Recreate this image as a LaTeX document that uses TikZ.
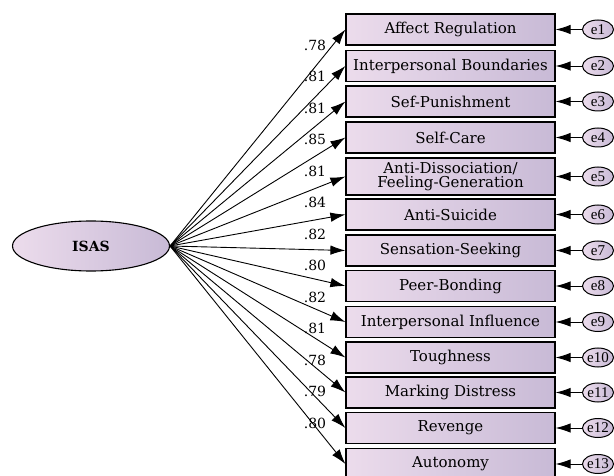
\documentclass[tikz,border=0pt]{standalone}
\usepackage{fontspec}
\setmainfont{DejaVu Serif}
\newfontfamily\errfont{Liberation Serif}
\usepackage{xcolor}
\usepackage{tikz}
\usetikzlibrary{shapes,arrows.meta,positioning}
\definecolor{lilacL}{RGB}{236,220,236}
\definecolor{lilacR}{RGB}{200,186,214}

\begin{document}
\begin{tikzpicture}[x=1pt, y=-1pt,
    item/.style={draw, line width=1.2pt, left color=lilacL, right color=lilacR,
      minimum width=209pt, minimum height=31pt, inner sep=1pt, align=center,
      font=\fontsize{15}{14}\selectfont},
    err/.style={ellipse, draw, line width=1pt, left color=lilacL, right color=lilacR,
      minimum width=31pt, minimum height=19pt, inner ysep=0pt, inner xsep=-1.5pt,
      font=\errfont\fontsize{15}{14}\selectfont},
    load/.style={-{Latex[length=15pt,width=9.5pt]}, line width=0.9pt},
    coef/.style={inner sep=0pt, font=\fontsize{14}{14}\selectfont}]
    \useasboundingbox (0,0) rectangle (614,476);

    % latent factor
    \node [ellipse, draw, line width=1.1pt, left color=lilacL, right color=lilacR,
      minimum width=157pt, minimum height=50pt, font=\bfseries\fontsize{14}{14}\selectfont]
      (isas) at (91,246) {ISAS};

    % observed items
    \node [item] (v1) at (450.5,29.5) {Affect Regulation};
    \node [item] (v2) at (450.5,66) {Interpersonal Boundaries};
    \node [item] (v3) at (450.5,101.5) {Sef-Punishment};
    \node [item] (v4) at (450.5,137.5) {Self-Care};
    \node [item, minimum height=37pt] (v5) at (450.5,176.5) {Anti-Dissociation/\\Feeling-Generation};
    \node [item] (v6) at (450.5,214.5) {Anti-Suicide};
    \node [item] (v7) at (450.5,250.5) {Sensation-Seeking};
    \node [item] (v8) at (450.5,286) {Peer-Bonding};
    \node [item] (v9) at (450.5,322) {Interpersonal Influence};
    \node [item] (v10) at (450.5,357.5) {Toughness};
    \node [item] (v11) at (450.5,392.5) {Marking Distress};
    \node [item] (v12) at (450.5,428) {Revenge};
    \node [item] (v13) at (450.5,464) {Autonomy};

    % error terms
    \foreach \i in {1,...,13} {
      \node [err] (e\i) at (598,0 |- v\i) {e\i};
      \draw [load] (e\i) -- (v\i);
      \draw [load] (isas.east) -- (v\i.west);
    }

    % loadings
    \foreach \v [count=\i] in {.78,.81,.81,.85,.81,.84,.82,.80,.82,.81,.78,.79,.80}
      \node [coef] (c\i) at (315,{45+(\i-1)*31.5}) {\v};
\end{tikzpicture}
\end{document}
